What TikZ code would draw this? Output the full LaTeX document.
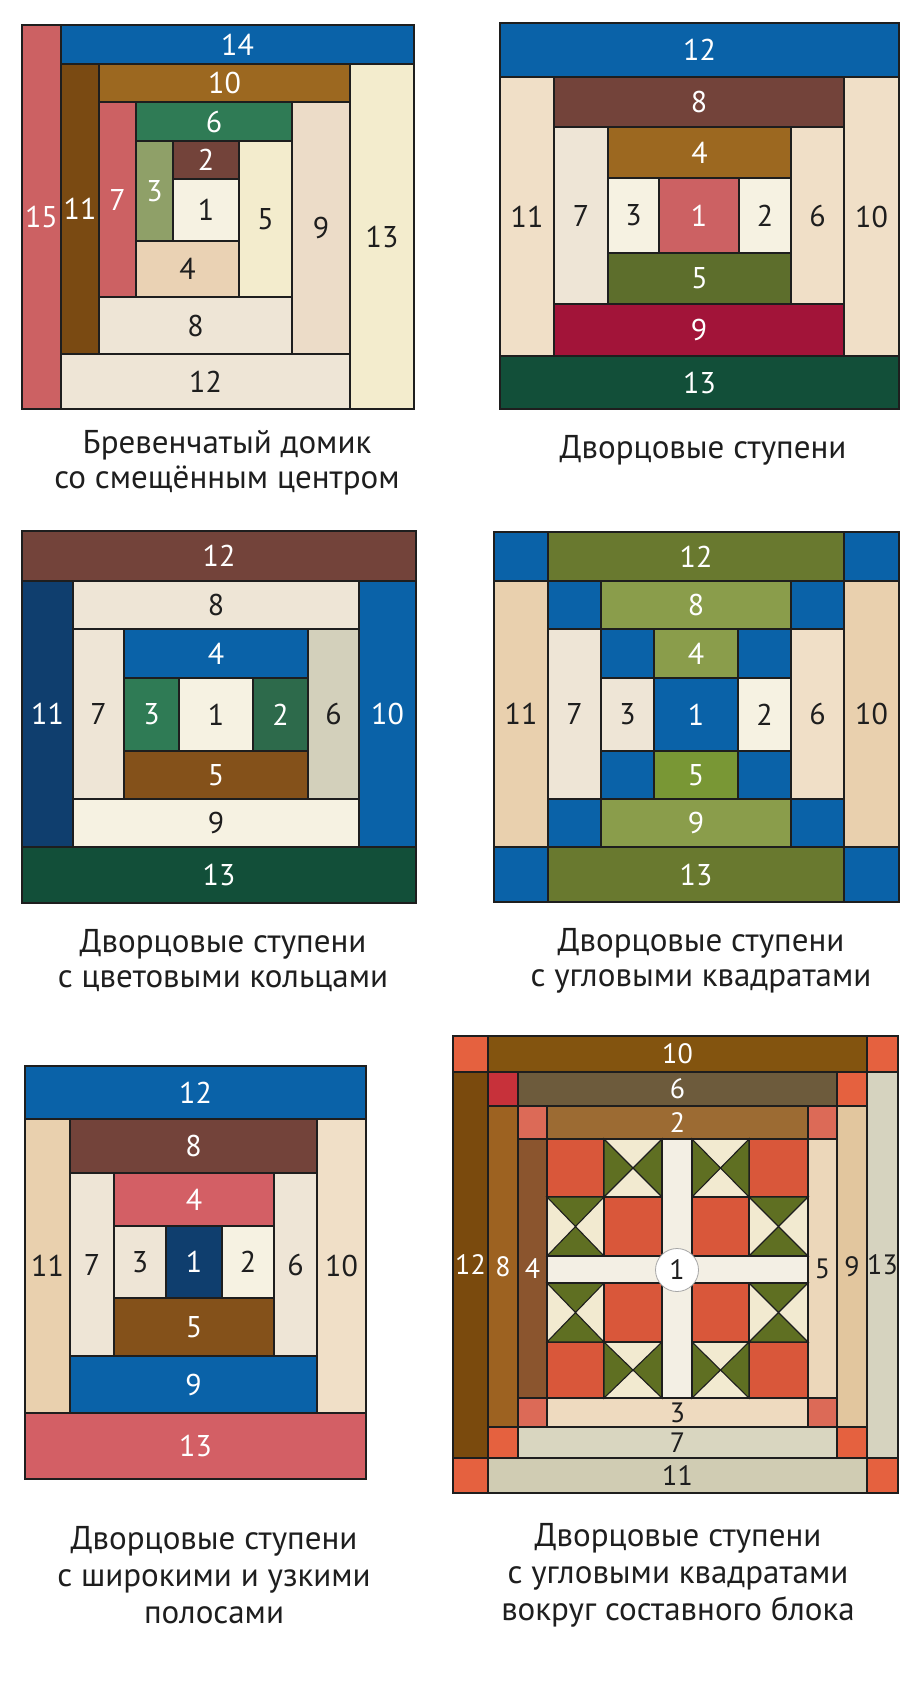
\documentclass[tikz,border=0pt]{standalone}
\usepackage{fontspec}
\setmainfont{PT Sans}
% palette
\definecolor{qblue}{HTML}{0A62A8}
\definecolor{qnavy}{HTML}{0F3E6E}
\definecolor{qpink}{HTML}{CC6163}
\definecolor{qdkbrown}{HTML}{7A4A12}
\definecolor{qochre}{HTML}{9C6820}
\definecolor{qgreen}{HTML}{2F7B55}
\definecolor{qjade}{HTML}{2D6A4B}
\definecolor{qsage}{HTML}{8FA068}
\definecolor{qmaroon}{HTML}{73433A}
\definecolor{qcream}{HTML}{F6F2E2}
\definecolor{qivory}{HTML}{F3ECCD}
\definecolor{qpeach}{HTML}{EAD2B4}
\definecolor{qsand}{HTML}{ECDCC8}
\definecolor{qlinen}{HTML}{EEE5D6}
\definecolor{qbeige}{HTML}{F0DFC7}
\definecolor{qolive}{HTML}{5D6E2C}
\definecolor{qcrimson}{HTML}{A21439}
\definecolor{qpine}{HTML}{124F39}
\definecolor{qbrown}{HTML}{84511A}
\definecolor{qgrey}{HTML}{D3D0BB}
\definecolor{qmoss}{HTML}{69792F}
\definecolor{qleaf}{HTML}{8A9D4B}
\definecolor{qlime}{HTML}{799735}
\definecolor{qtan}{HTML}{E9D0AE}
\definecolor{qrose}{HTML}{D35F65}
% composite block
\definecolor{kcorner}{HTML}{E5613F}
\definecolor{kcrim}{HTML}{C7313A}
\definecolor{ksalmon}{HTML}{DC6A57}
\definecolor{kten}{HTML}{83540F}
\definecolor{ktwelve}{HTML}{7A4A0D}
\definecolor{ksix}{HTML}{6D5B3C}
\definecolor{ktwo}{HTML}{9C6B33}
\definecolor{keight}{HTML}{9D6221}
\definecolor{kfour}{HTML}{8B552E}
\definecolor{kfive}{HTML}{ECD7BA}
\definecolor{knine}{HTML}{E2C69E}
\definecolor{kthirteen}{HTML}{D6D3BF}
\definecolor{kthree}{HTML}{EEDABF}
\definecolor{kseven}{HTML}{D9D6C0}
\definecolor{keleven}{HTML}{D0CCB3}
\definecolor{kred}{HTML}{D9573A}
\definecolor{kgreen}{HTML}{5F6F22}
\definecolor{kcream}{HTML}{F2EAD0}
\definecolor{ksash}{HTML}{F3EFE4}
\definecolor{ink}{HTML}{1E1E1E}

\tikzset{
  patch/.style={draw=ink, line width=1.1pt},
  num/.style={font=\fontsize{30}{32}\selectfont, inner sep=0pt},
  caption/.style={font=\fontsize{33}{35}\selectfont, align=center, text=ink}
}
% x1 y1 x2 y2 fill label textcolour
\newcommand{\piece}[7]{%
  \filldraw[patch, fill=#5] (#1,#2) rectangle (#3,#4);
  \node[num, text=#7] (\blk#6) at ({(#1+#3)/2},{(#2+#4)/2}) {#6};}
\newcommand{\sq}[5]{\filldraw[patch, fill=#5] (#1,#2) rectangle (#3,#4);}
% hourglass, green on the sides
\newcommand{\hgside}[4]{%
  \filldraw[patch, fill=kcream] (#1,#2) rectangle (#3,#4);
  \filldraw[patch, fill=kgreen] (#1,#2) -- ({(#1+#3)/2},{(#2+#4)/2}) -- (#1,#4) -- cycle;
  \filldraw[patch, fill=kgreen] (#3,#2) -- ({(#1+#3)/2},{(#2+#4)/2}) -- (#3,#4) -- cycle;}
% hourglass, green top and bottom
\newcommand{\hgtop}[4]{%
  \filldraw[patch, fill=kcream] (#1,#2) rectangle (#3,#4);
  \filldraw[patch, fill=kgreen] (#1,#2) -- ({(#1+#3)/2},{(#2+#4)/2}) -- (#3,#2) -- cycle;
  \filldraw[patch, fill=kgreen] (#1,#4) -- ({(#1+#3)/2},{(#2+#4)/2}) -- (#3,#4) -- cycle;}

\begin{document}
\begin{tikzpicture}[x=1pt, y=-1pt]
  \useasboundingbox[fill=white] (0,0) rectangle (922,1706);

  % offset centre
  \def\blk{a}
  \piece{22}{25}{61}{409}{qpink}{15}{white}
  \piece{61}{25}{414}{64}{qblue}{14}{white}
  \piece{61}{64}{99}{354}{qdkbrown}{11}{white}
  \piece{61}{354}{350}{409}{qlinen}{12}{ink}
  \piece{350}{64}{414}{409}{qivory}{13}{ink}
  \piece{99}{64}{350}{102}{qochre}{10}{white}
  \piece{292}{102}{350}{354}{qsand}{9}{ink}
  \piece{99}{297}{292}{354}{qlinen}{8}{ink}
  \piece{99}{102}{136}{297}{qpink}{7}{white}
  \piece{136}{102}{292}{141}{qgreen}{6}{white}
  \piece{239}{141}{292}{297}{qivory}{5}{ink}
  \piece{136}{241}{239}{297}{qpeach}{4}{ink}
  \piece{136}{141}{173}{241}{qsage}{3}{white}
  \piece{173}{141}{239}{179}{qmaroon}{2}{white}
  \piece{173}{179}{239}{241}{qcream}{1}{ink}
  \node[caption] (capa) at (227,463) {Бревенчатый домик\\со смещённым центром};

  % courthouse steps
  \def\blk{b}
  \piece{500}{23}{899}{77}{qblue}{12}{white}
  \piece{500}{356}{899}{409}{qpine}{13}{white}
  \piece{500}{77}{554}{356}{qbeige}{11}{ink}
  \piece{844}{77}{899}{356}{qbeige}{10}{ink}
  \piece{554}{77}{844}{127}{qmaroon}{8}{white}
  \piece{554}{304}{844}{356}{qcrimson}{9}{white}
  \piece{554}{127}{608}{304}{qlinen}{7}{ink}
  \piece{791}{127}{844}{304}{qbeige}{6}{ink}
  \piece{608}{127}{791}{178}{qochre}{4}{white}
  \piece{608}{253}{791}{304}{qolive}{5}{white}
  \piece{608}{178}{659}{253}{qcream}{3}{ink}
  \piece{739}{178}{791}{253}{qcream}{2}{ink}
  \piece{659}{178}{739}{253}{qpink}{1}{white}
  \node[caption] (capb) at (703,450) {Дворцовые ступени};

  % colour rings
  \def\blk{c}
  \piece{22}{531}{416}{581}{qmaroon}{12}{white}
  \piece{22}{847}{416}{903}{qpine}{13}{white}
  \piece{22}{581}{73}{847}{qnavy}{11}{white}
  \piece{359}{581}{416}{847}{qblue}{10}{white}
  \piece{73}{581}{359}{629}{qlinen}{8}{ink}
  \piece{73}{799}{359}{847}{qcream}{9}{ink}
  \piece{73}{629}{124}{799}{qlinen}{7}{ink}
  \piece{308}{629}{359}{799}{qgrey}{6}{ink}
  \piece{124}{629}{308}{678}{qblue}{4}{white}
  \piece{124}{751}{308}{799}{qbrown}{5}{white}
  \piece{124}{678}{179}{751}{qgreen}{3}{white}
  \piece{253}{678}{308}{751}{qjade}{2}{white}
  \piece{179}{678}{253}{751}{qcream}{1}{ink}
  \node[caption] (capc) at (223,961) {Дворцовые ступени\\с цветовыми кольцами};

  % corner squares
  \def\blk{d}
  \foreach \xa/\ya/\xb/\yb in {494/532/548/581, 844/532/899/581, 494/847/548/902, 844/847/899/902,
      548/581/601/629, 791/581/844/629, 548/799/601/847, 791/799/844/847,
      601/629/654/678, 738/629/791/678, 601/751/654/799, 738/751/791/799}
    {\sq{\xa}{\ya}{\xb}{\yb}{qblue}}
  \piece{548}{532}{844}{581}{qmoss}{12}{white}
  \piece{548}{847}{844}{902}{qmoss}{13}{white}
  \piece{494}{581}{548}{847}{qtan}{11}{ink}
  \piece{844}{581}{899}{847}{qtan}{10}{ink}
  \piece{601}{581}{791}{629}{qleaf}{8}{white}
  \piece{601}{799}{791}{847}{qleaf}{9}{white}
  \piece{548}{629}{601}{799}{qlinen}{7}{ink}
  \piece{791}{629}{844}{799}{qbeige}{6}{ink}
  \piece{654}{629}{738}{678}{qleaf}{4}{white}
  \piece{654}{751}{738}{799}{qlime}{5}{white}
  \piece{601}{678}{654}{751}{qlinen}{3}{ink}
  \piece{738}{678}{791}{751}{qcream}{2}{ink}
  \piece{654}{678}{738}{751}{qblue}{1}{white}
  \node[caption] (capd) at (701,961) {Дворцовые ступени\\с угловыми квадратами};

  % wide and narrow strips
  \def\blk{e}
  \piece{25}{1066}{366}{1119}{qblue}{12}{white}
  \piece{25}{1413}{366}{1479}{qrose}{13}{white}
  \piece{25}{1119}{70}{1413}{qtan}{11}{ink}
  \piece{317}{1119}{366}{1413}{qbeige}{10}{ink}
  \piece{70}{1119}{317}{1173}{qmaroon}{8}{white}
  \piece{70}{1356}{317}{1413}{qblue}{9}{white}
  \piece{70}{1173}{114}{1356}{qlinen}{7}{ink}
  \piece{274}{1173}{317}{1356}{qlinen}{6}{ink}
  \piece{114}{1173}{274}{1226}{qrose}{4}{white}
  \piece{114}{1298}{274}{1356}{qbrown}{5}{white}
  \piece{114}{1226}{166}{1298}{qlinen}{3}{ink}
  \piece{222}{1226}{274}{1298}{qcream}{2}{ink}
  \piece{166}{1226}{222}{1298}{qnavy}{1}{white}
  \node[caption, font=\fontsize{33}{37}\selectfont] (cape) at (214,1575) {Дворцовые ступени\\с широкими и узкими\\полосами};

  % around a pieced block
  \begin{scope}[num/.style={font=\fontsize{28}{30}\selectfont, inner sep=0pt}]
  \def\blk{f}
  \foreach \xa/\ya/\xb/\yb in {453/1036/488/1072, 867/1036/898/1072, 453/1458/488/1493, 867/1458/898/1493,
      837/1072/867/1106, 488/1427/518/1458, 837/1427/867/1458}
    {\sq{\xa}{\ya}{\xb}{\yb}{kcorner}}
  \sq{488}{1072}{518}{1106}{kcrim}
  \foreach \xa/\ya/\xb/\yb in {518/1106/547/1139, 808/1106/837/1139, 518/1398/547/1427, 808/1398/837/1427}
    {\sq{\xa}{\ya}{\xb}{\yb}{ksalmon}}
  \piece{488}{1036}{867}{1072}{kten}{10}{white}
  \piece{453}{1072}{488}{1458}{ktwelve}{12}{white}
  \piece{867}{1072}{898}{1458}{kthirteen}{13}{ink}
  \piece{488}{1458}{867}{1493}{keleven}{11}{ink}
  \piece{518}{1072}{837}{1106}{ksix}{6}{white}
  \piece{488}{1106}{518}{1427}{keight}{8}{white}
  \piece{837}{1106}{867}{1427}{knine}{9}{ink}
  \piece{518}{1427}{837}{1458}{kseven}{7}{ink}
  \piece{547}{1106}{808}{1139}{ktwo}{2}{white}
  \piece{518}{1139}{547}{1398}{kfour}{4}{white}
  \piece{808}{1139}{837}{1398}{kfive}{5}{ink}
  \piece{547}{1398}{808}{1427}{kthree}{3}{ink}
  % nine-patch stars
  \foreach \xa/\ya/\xb/\yb in {547/1139/604/1197, 604/1197/662/1256, 749/1139/808/1197, 692/1197/749/1256,
      604/1283/662/1342, 547/1342/604/1398, 692/1283/749/1342, 749/1342/808/1398}
    {\sq{\xa}{\ya}{\xb}{\yb}{kred}}
  \hgside{604}{1139}{662}{1197}
  \hgside{692}{1139}{749}{1197}
  \hgside{604}{1342}{662}{1398}
  \hgside{692}{1342}{749}{1398}
  \hgtop{547}{1197}{604}{1256}
  \hgtop{749}{1197}{808}{1256}
  \hgtop{547}{1283}{604}{1342}
  \hgtop{749}{1283}{808}{1342}
  \filldraw[patch, fill=ksash] (662,1139) rectangle (692,1398);
  \filldraw[patch, fill=ksash] (547,1256) rectangle (808,1283);
  \fill[ksash] (663,1257) rectangle (691,1282);
  \node[circle, draw=black!35, fill=white, line width=0.8pt, minimum size=43pt, inner sep=0pt,
        font=\fontsize{28}{30}\selectfont, text=ink] (f1) at (677,1270) {1};
  \end{scope}
  \node[caption, font=\fontsize{33}{37}\selectfont] (capf) at (678,1575) {Дворцовые ступени\\с угловыми квадратами\\вокруг составного блока};
\end{tikzpicture}
\end{document}
